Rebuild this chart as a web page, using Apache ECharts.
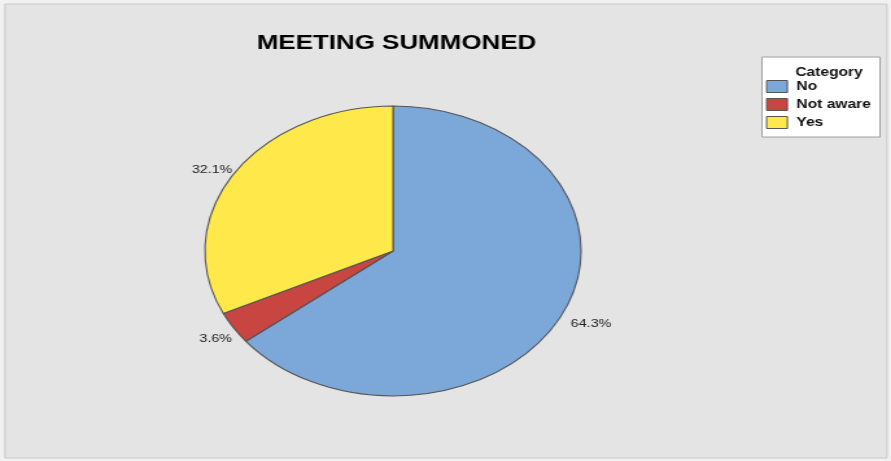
<!DOCTYPE html>
<html>
<head>
<meta charset="utf-8">
<script src="https://cdn.jsdelivr.net/npm/echarts@6/dist/echarts.min.js"></script>
<style>
  html, body { margin: 0; padding: 0; background: #f1f1f1; overflow: hidden; }
  #chart { position: absolute; left: 0; top: 0; height: 461px; transform-origin: 0 0; }
</style>
</head>
<body>
<div id="chart"></div>
<script>
// Survey answers: was a meeting summoned?
const categories = ['No', 'Not aware', 'Yes'];
const percents = [64.3, 3.6, 32.1];
const colors = ['#7ba7d9', '#c94542', '#ffe94a'];

// The chart is drawn on a narrower canvas and stretched horizontally,
// which turns the round pie into a wide ellipse.
const PAGE_W = 891;
const STRETCH = 1.297;
const W = PAGE_W / STRETCH;
const el = document.getElementById('chart');
el.style.width = W + 'px';
el.style.transform = 'scaleX(' + STRETCH + ')';

const chart = echarts.init(el, null, { renderer: 'canvas' });
const sx = x => x / STRETCH;
const PIE_CX = sx(393);
const PIE_CY = 251;

chart.setOption({
  animation: false,
  backgroundColor: 'transparent',
  graphic: [
    {
      type: 'rect', silent: true, z: -10,
      shape: { x: sx(5), y: 4, width: sx(882), height: 454 },
      style: { fill: '#e4e4e4', stroke: '#c9c9c9', lineWidth: 1 }
    },
    {
      type: 'rect', silent: true, z: 1,
      shape: { x: sx(762), y: 57, width: sx(118), height: 80 },
      style: { fill: '#ffffff', stroke: '#a0a0a0', lineWidth: 1 }
    },
    {
      type: 'text', silent: true, z: 2,
      style: {
        x: sx(829), y: 73, text: 'Category',
        font: 'bold 12px "Liberation Sans", Arial, sans-serif',
        fill: '#111', textAlign: 'center', textVerticalAlign: 'middle'
      }
    }
  ],
  title: {
    text: 'MEETING SUMMONED',
    left: sx(390), top: 28, textAlign: 'center',
    textStyle: {
      fontFamily: '"Liberation Sans", Arial, sans-serif',
      fontWeight: 'bold', fontSize: 20, color: '#000'
    }
  },
  legend: {
    orient: 'vertical',
    left: sx(766), top: 80,
    padding: 0,
    itemWidth: 16, itemHeight: 12, itemGap: 5,
    selectedMode: false,
    icon: 'rect',
    z: 3,
    textStyle: {
      fontFamily: '"Liberation Sans", Arial, sans-serif',
      fontWeight: 'bold', fontSize: 12, color: '#111', padding: [0, 0, 0, 2]
    },
    itemStyle: { borderColor: '#555', borderWidth: 1 },
    data: categories
  },
  series: [{
    type: 'pie',
    center: [PIE_CX, PIE_CY],
    radius: 145,
    startAngle: 90,
    clockwise: true,
    avoidLabelOverlap: false,
    color: colors,
    itemStyle: { borderColor: '#555', borderWidth: 1.1 },
    label: {
      show: true,
      position: 'outside',
      formatter: p => p.value.toFixed(1) + '%',
      fontFamily: '"Liberation Sans", Arial, sans-serif',
      fontSize: 11,
      color: '#222',
      distanceToLabelLine: 2
    },
    labelLine: { show: false, length: 5, length2: 0 },
    // percentage labels sit a little lower below the equator and hug the rim on the left
    labelLayout: function (params) {
      const r = params.labelRect;
      const midY = r.y + r.height / 2;
      const midX = r.x + r.width / 2;
      return {
        dx: midX < PIE_CX ? 5 : 0,
        dy: midY > PIE_CY ? 8 : -1
      };
    },
    emphasis: { disabled: true },
    data: categories.map((name, i) => ({ name: name, value: percents[i] }))
  }]
});
</script>
</body>
</html>
